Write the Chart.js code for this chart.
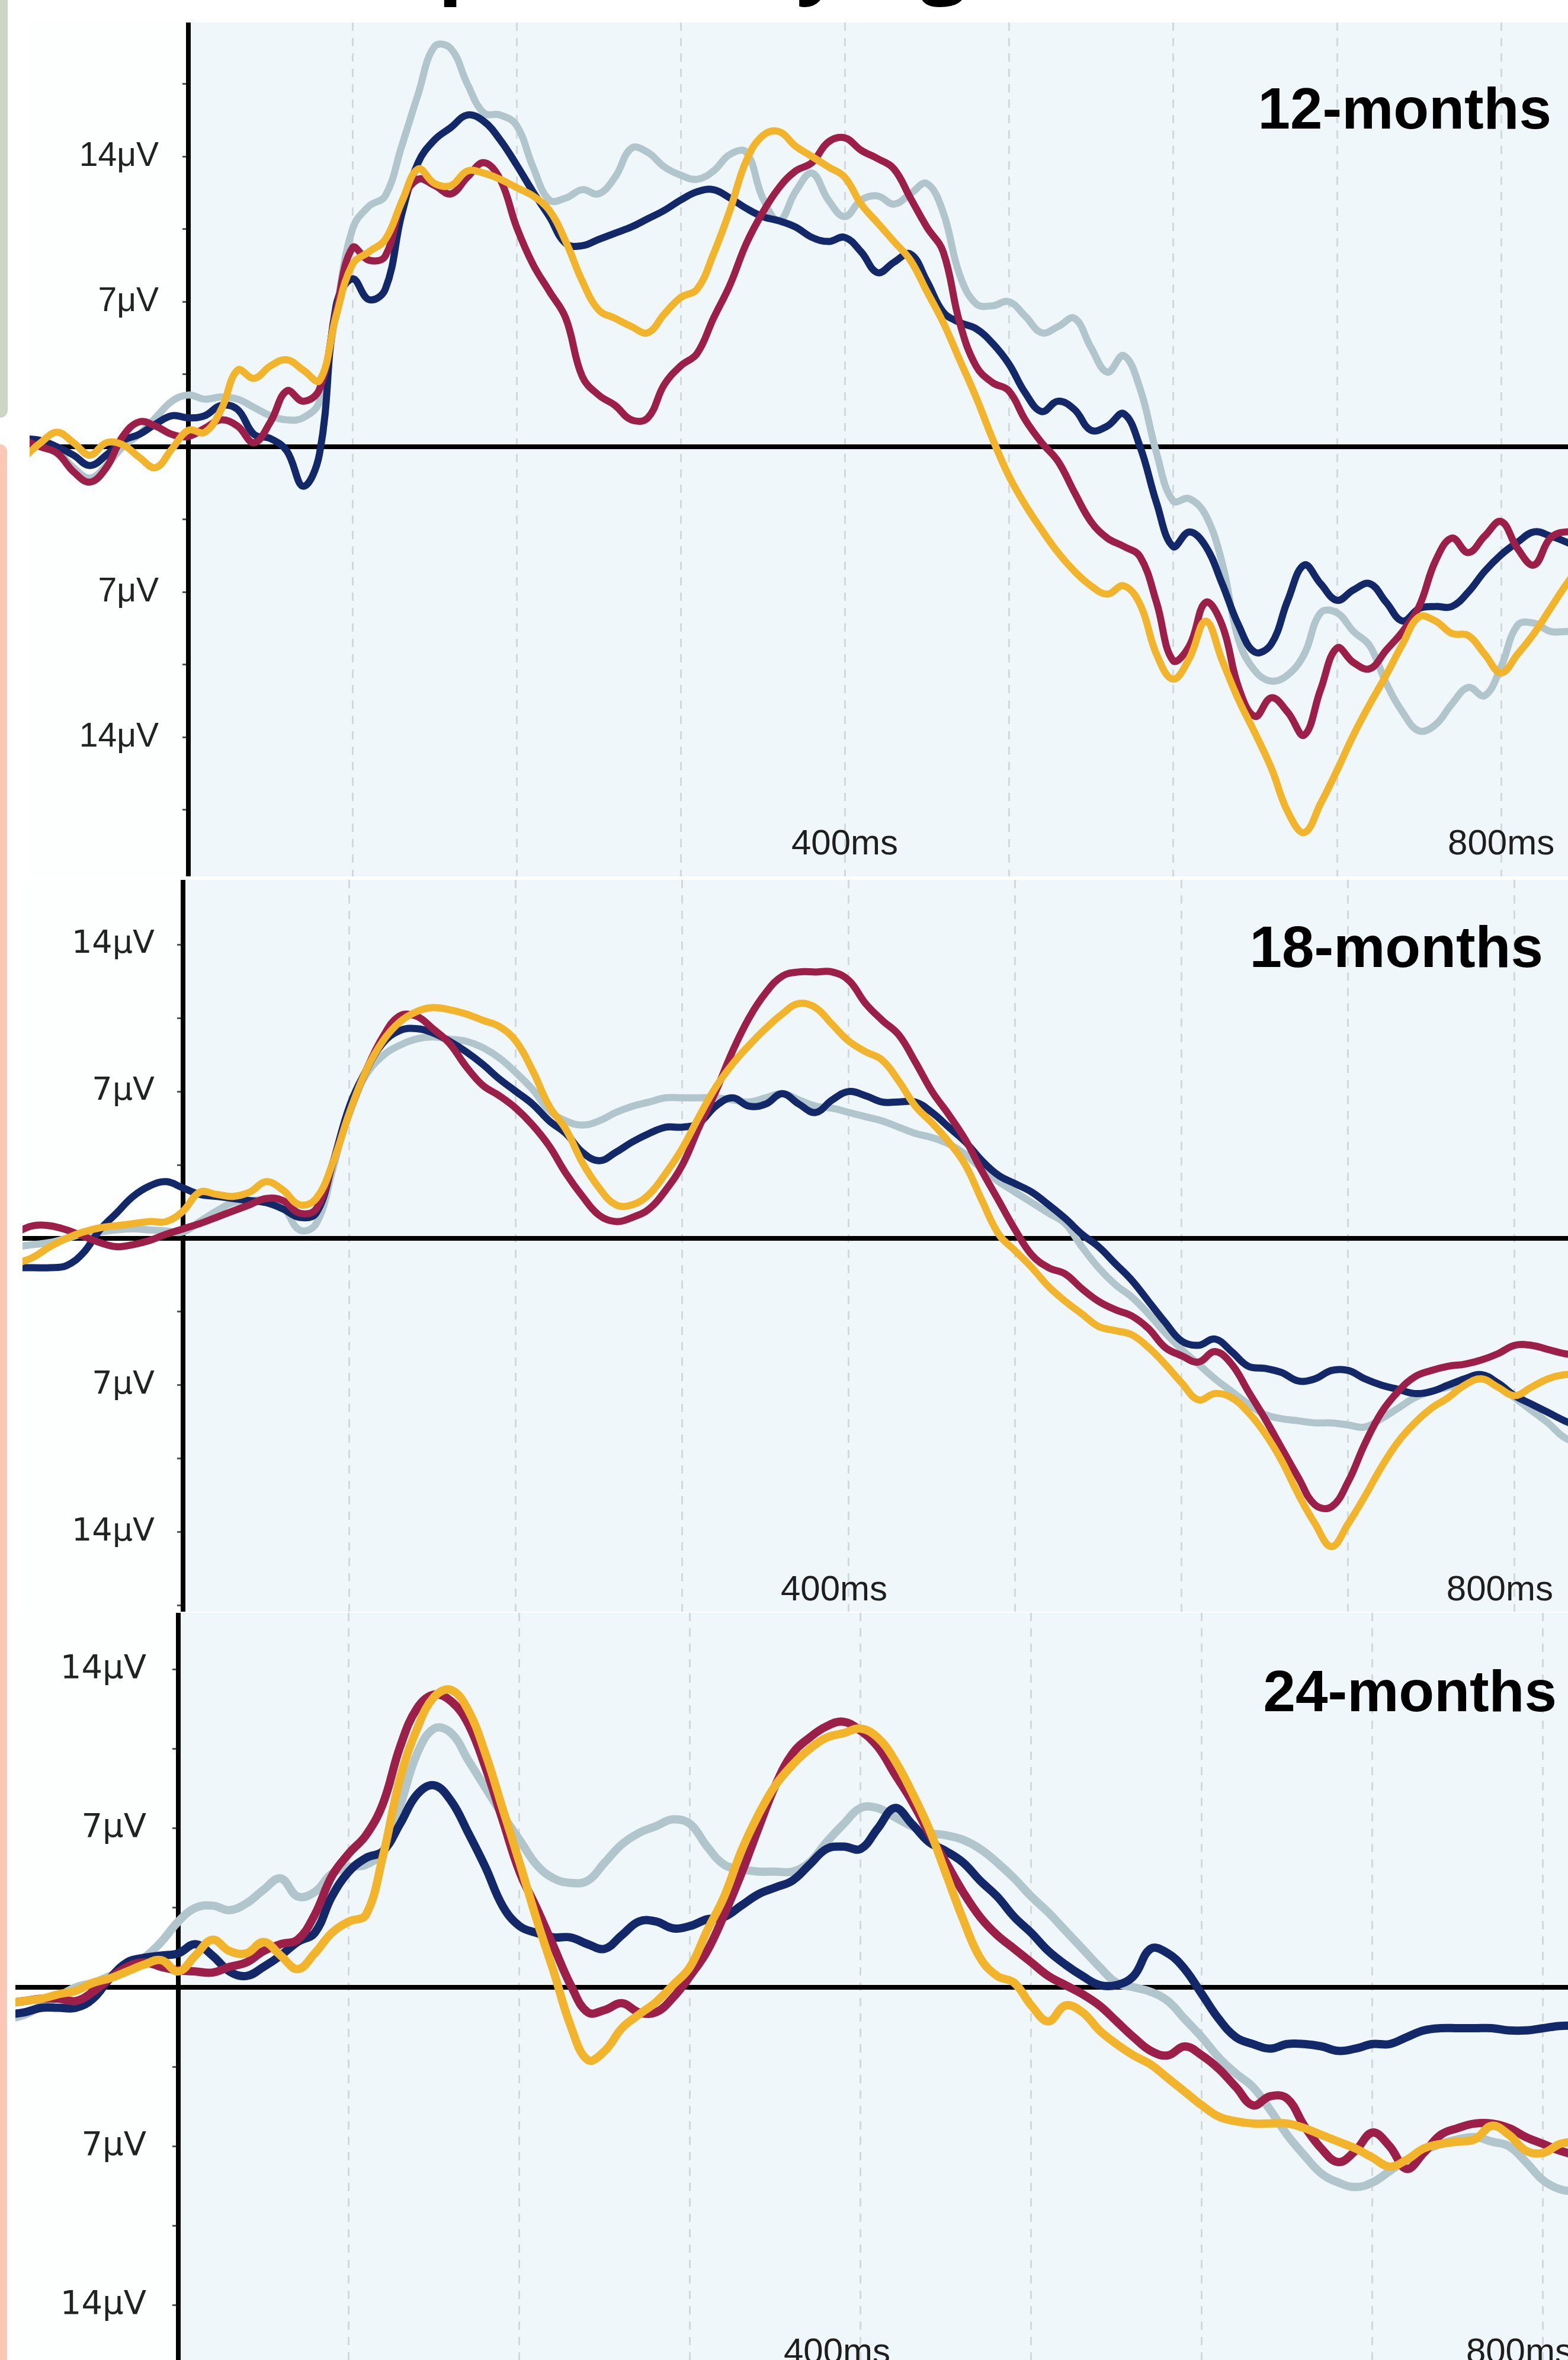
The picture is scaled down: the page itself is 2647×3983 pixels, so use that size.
<!DOCTYPE html>
<html>
<head>
<meta charset="utf-8">
<script src="https://cdn.jsdelivr.net/npm/chart.js@4.4.1/dist/chart.umd.min.js"></script>
<style>
  body { margin: 0; width: 2647px; height: 3983px; overflow: hidden; position: relative; background: #fff; }
  canvas { position: absolute; }
  .bar-green { position: absolute; left: 0; top: 0; width: 13px; height: 705px; background: #cdd6c5; border-bottom-right-radius: 14px; }
  .bar-salmon { position: absolute; left: 0; top: 750px; width: 12px; height: 3233px; background: #fcc7b4; border-top-right-radius: 14px; }
  .title { position: absolute; left: 207px; top: -144px; font: 700 138px/138px 'Open Sans', sans-serif; color: #000; white-space: nowrap; }
  .age { position: absolute; font: 700 98px/98px 'Liberation Sans', Arial, sans-serif; color: #000; white-space: nowrap; }
</style>
</head>
<body>
<div class="bar-green"></div>
<div class="bar-salmon"></div>
<div class="title">ERP Responses by Age</div>

<!-- the panels run a little past the right page edge, as in the cropped original -->
<canvas id="panel12" width="2637" height="1441" style="left:50px;top:38px"></canvas>
<canvas id="panel18" width="2649" height="1235" style="left:38px;top:1485px"></canvas>
<canvas id="panel24" width="2661" height="1261" style="left:26px;top:2722px"></canvas>

<div class="age" style="right:28px;top:134px">12-months</div>
<div class="age" style="right:42px;top:1549px">18-months</div>
<div class="age" style="right:19px;top:2805px">24-months</div>

<script>
// time after stimulus onset (ms)
const times = [
  -100, -90, -80, -70, -60, -50, -40, -30, -20, -10,
  0, 10, 20, 30, 40, 50, 60, 70, 80, 90,
  100, 110, 120, 130, 140, 150, 160, 170, 180, 190,
  200, 210, 220, 230, 240, 250, 260, 270, 280, 290,
  300, 310, 320, 330, 340, 350, 360, 370, 380, 390,
  400, 410, 420, 430, 440, 450, 460, 470, 480, 490,
  500, 510, 520, 530, 540, 550, 560, 570, 580, 590,
  600, 610, 620, 630, 640, 650, 660, 670, 680, 690,
  700, 710, 720, 730, 740, 750, 760, 770, 780, 790,
  800, 810, 820, 830, 840, 850
];

// 12 months (µV)
const navy12 = [
  0.4, 0.3, 0.0, -0.4, -0.9, -0.4, 0.3, 0.6, 1.1, 1.5,
  1.4, 1.5, 2.0, 1.8, 0.6, 0.4, -0.2, -1.9, -0.3, 6.8,
  8.1, 7.1, 7.6, 11.2, 13.7, 14.8, 15.4, 16.0, 15.7, 14.8,
  13.6, 12.3, 11.1, 9.8, 9.7, 10.0, 10.3, 10.6, 11.0, 11.4,
  11.9, 12.3, 12.4, 12.0, 11.5, 11.1, 10.9, 10.6, 10.1, 9.9,
  10.1, 9.4, 8.4, 8.9, 9.3, 8.0, 6.5, 6.0, 5.7, 5.0,
  4.0, 2.6, 1.7, 2.2, 1.8, 0.8, 1.0, 1.6, 0.0, -2.7,
  -4.8, -4.1, -4.8, -6.6, -8.6, -9.9, -9.5, -7.4, -5.7, -6.6,
  -7.4, -6.9, -6.6, -7.5, -8.4, -7.8, -7.7, -7.7, -7.0, -6.0,
  -5.2, -4.6, -4.1, -4.3, -4.6, -5.0
];
const grey12 = [
  0.3, 0.3, -0.2, -1.0, -1.5, -0.9, 0.0, 0.6, 1.4, 2.2,
  2.5, 2.3, 2.4, 2.3, 1.9, 1.5, 1.3, 1.4, 2.2, 6.5,
  10.5, 11.6, 12.1, 14.5, 17.0, 19.3, 19.2, 17.5, 16.1, 16.0,
  15.5, 13.5, 11.9, 12.0, 12.4, 12.2, 13.0, 14.4, 14.2, 13.5,
  13.1, 12.9, 13.3, 14.1, 14.2, 12.0, 10.9, 12.3, 13.2, 11.9,
  11.1, 11.9, 12.1, 11.7, 12.2, 12.7, 11.3, 8.3, 6.9, 6.8,
  7.0, 6.3, 5.5, 5.8, 6.2, 4.8, 3.6, 4.4, 2.8, -0.3,
  -2.6, -2.5, -3.3, -5.6, -9.3, -10.8, -11.3, -11.0, -10.0, -8.0,
  -8.0, -8.9, -9.6, -11.4, -12.8, -13.7, -13.4, -12.4, -11.6, -12.0,
  -10.6, -8.6, -8.5, -8.9, -8.9, -8.9
];
const maroon12 = [
  0.3, 0.0, -0.3, -1.2, -1.7, -1.0, 0.5, 1.2, 1.0, 0.6,
  0.5, 0.9, 1.3, 1.0, 0.2, 1.2, 2.7, 2.2, 2.8, 6.5,
  9.6, 9.0, 9.2, 11.8, 12.9, 12.6, 12.2, 13.0, 13.7, 12.9,
  10.6, 8.8, 7.5, 6.2, 3.4, 2.5, 2.0, 1.3, 1.4, 3.0,
  3.9, 4.5, 6.2, 7.8, 9.8, 11.3, 12.5, 13.3, 13.7, 14.7,
  14.9, 14.3, 13.9, 13.4, 12.0, 10.6, 9.4, 6.0, 3.9, 3.1,
  2.7, 1.3, 0.2, -0.7, -2.2, -3.6, -4.4, -4.8, -5.3, -7.5,
  -10.3, -9.6, -7.5, -8.6, -11.6, -13.0, -12.1, -12.8, -13.9, -11.7,
  -9.7, -10.4, -10.7, -9.8, -8.9, -7.7, -5.5, -4.4, -5.1, -4.3,
  -3.6, -4.9, -5.7, -4.4, -4.1, -4.3
];
const gold12 = [
  -0.5, 0.2, 0.7, 0.2, -0.4, 0.2, 0.1, -0.5, -1.0, -0.1,
  0.8, 0.7, 1.8, 3.7, 3.3, 3.9, 4.2, 3.7, 3.2, 6.3,
  8.8, 9.4, 10.0, 11.8, 13.4, 12.7, 12.6, 13.3, 13.2, 12.9,
  12.5, 12.1, 11.4, 9.9, 8.0, 6.6, 6.2, 5.8, 5.5, 6.4,
  7.2, 7.6, 9.3, 11.4, 13.8, 15.0, 15.2, 14.5, 14.0, 13.5,
  13.0, 11.7, 10.8, 9.9, 9.0, 7.5, 6.0, 4.2, 2.4, 0.4,
  -1.4, -2.8, -4.0, -5.1, -6.0, -6.7, -7.1, -6.7, -7.6, -10.0,
  -11.2, -10.2, -8.4, -10.3, -12.2, -13.8, -15.5, -17.6, -18.6, -17.2,
  -15.6, -13.9, -12.4, -11.0, -9.5, -8.2, -8.4, -9.0, -9.1, -10.0,
  -10.9, -10.0, -9.0, -7.8, -6.6, -5.6
];

// 18 months (µV)
const navy18 = [
  -1.4, -1.4, -1.4, -1.3, -0.7, 0.4, 1.2, 2.0, 2.5, 2.7,
  2.4, 2.1, 2.0, 1.9, 1.8, 1.7, 1.4, 1.0, 1.2, 3.6,
  6.3, 8.0, 9.3, 9.9, 10.0, 9.8, 9.4, 8.9, 8.3, 7.6,
  7.0, 6.4, 5.6, 5.0, 4.1, 3.7, 4.1, 4.6, 5.0, 5.3,
  5.3, 5.5, 6.3, 6.7, 6.3, 6.4, 6.9, 6.4, 6.0, 6.6,
  7.0, 6.8, 6.5, 6.5, 6.5, 6.0, 5.3, 4.6, 3.7, 3.0,
  2.6, 2.2, 1.6, 0.95, 0.2, -0.4, -1.2, -2.0, -3.0, -4.0,
  -4.9, -5.1, -4.8, -5.4, -6.1, -6.2, -6.4, -6.8, -6.7, -6.3,
  -6.3, -6.7, -7.0, -7.2, -7.4, -7.3, -7.0, -6.7, -6.5, -6.9,
  -7.5, -7.9, -8.3, -8.7, -9.0, -9.2
];
const grey18 = [
  -0.4, -0.3, -0.2, 0.0, 0.2, 0.3, 0.4, 0.45, 0.4, 0.35,
  0.3, 0.8, 1.3, 1.7, 1.8, 1.8, 1.5, 0.4, 0.7, 3.3,
  6.2, 7.8, 8.7, 9.2, 9.5, 9.6, 9.5, 9.4, 9.1, 8.6,
  7.9, 7.1, 6.1, 5.6, 5.4, 5.6, 6.0, 6.3, 6.5, 6.7,
  6.7, 6.7, 6.7, 6.6, 6.5, 6.7, 6.9, 6.6, 6.3, 6.2,
  6.0, 5.8, 5.6, 5.3, 5.0, 4.8, 4.5, 4.0, 3.3, 2.7,
  2.2, 1.7, 1.2, 0.7, -0.4, -1.4, -2.2, -2.8, -3.6, -4.5,
  -5.3, -6.0, -6.7, -7.3, -7.9, -8.4, -8.6, -8.7, -8.8, -8.8,
  -8.9, -9.0, -8.6, -8.1, -7.6, -7.3, -7.1, -6.9, -6.7, -7.0,
  -7.6, -8.2, -8.8, -9.5, -9.8, -10.0
];
const maroon18 = [
  0.3, 0.6, 0.6, 0.4, 0.1, -0.2, -0.4, -0.3, -0.1, 0.2,
  0.45, 0.7, 1.0, 1.3, 1.6, 1.9, 1.8, 1.2, 1.4, 3.6,
  6.0, 8.0, 9.6, 10.6, 10.6, 10.0, 9.3, 8.2, 7.3, 6.8,
  6.2, 5.4, 4.4, 3.1, 2.0, 1.1, 0.8, 1.0, 1.4, 2.3,
  3.5, 5.3, 7.0, 8.9, 10.5, 11.7, 12.5, 12.7, 12.7, 12.7,
  12.3, 11.2, 10.4, 9.7, 8.4, 7.0, 5.9, 4.7, 3.2, 1.8,
  0.4, -0.8, -1.4, -1.7, -2.4, -3.0, -3.4, -3.7, -4.3, -5.2,
  -5.6, -5.9, -5.4, -6.0, -7.3, -8.6, -10.0, -11.4, -12.7, -12.8,
  -11.6, -9.8, -8.3, -7.3, -6.6, -6.3, -6.1, -6.0, -5.8, -5.5,
  -5.1, -5.1, -5.3, -5.5, -5.6, -5.6
];
const gold18 = [
  -1.2, -0.9, -0.4, 0.0, 0.3, 0.5, 0.6, 0.7, 0.8, 0.8,
  1.3, 2.2, 2.1, 2.0, 2.2, 2.7, 2.3, 1.6, 1.9, 3.6,
  6.0, 8.0, 9.4, 10.3, 10.8, 11.0, 10.9, 10.7, 10.4, 10.1,
  9.4, 8.0, 6.3, 5.2, 3.6, 2.4, 1.6, 1.6, 2.1, 3.1,
  4.3, 5.8, 7.2, 8.3, 9.2, 10.0, 10.7, 11.2, 11.0, 10.2,
  9.4, 8.9, 8.5, 7.5, 6.3, 5.5, 4.6, 3.5, 1.8, 0.2,
  -0.6, -1.4, -2.3, -3.0, -3.6, -4.2, -4.4, -4.6, -5.2, -6.0,
  -6.9, -7.7, -7.4, -7.6, -8.3, -9.3, -10.6, -12.2, -13.6, -14.7,
  -13.6, -12.3, -10.9, -9.7, -8.8, -8.1, -7.6, -7.0, -6.7, -7.1,
  -7.5, -7.1, -6.7, -6.5, -6.5, -6.5
];

// 24 months (µV)
const navy24 = [
  -1.2, -1.1, -0.9, -0.9, -0.9, -0.5, 0.4, 1.1, 1.3, 1.4,
  1.5, 1.9, 1.4, 0.7, 0.5, 0.9, 1.4, 2.0, 2.4, 4.0,
  5.1, 5.7, 6.0, 7.2, 8.5, 8.9, 8.2, 6.8, 5.3, 3.6,
  2.7, 2.4, 2.2, 2.2, 1.9, 1.7, 2.3, 2.9, 2.9, 2.6,
  2.7, 3.0, 3.1, 3.6, 4.1, 4.4, 4.7, 5.4, 6.1, 6.2,
  6.1, 7.0, 7.9, 7.2, 6.4, 6.0, 5.5, 4.7, 4.0, 3.1,
  2.4, 1.6, 1.0, 0.5, 0.1, 0.1, 0.5, 1.7, 1.5, 0.8,
  -0.3, -1.4, -2.2, -2.5, -2.7, -2.5, -2.5, -2.6, -2.8, -2.7,
  -2.5, -2.5, -2.2, -1.9, -1.8, -1.8, -1.8, -1.8, -1.9, -1.9,
  -1.8, -1.7, -1.7, -1.7, -1.7, -1.7
];
const grey24 = [
  -1.4, -1.2, -0.8, -0.4, 0.0, 0.2, 0.5, 0.85, 1.3, 2.0,
  2.9, 3.5, 3.6, 3.4, 3.7, 4.3, 4.8, 4.0, 4.2, 5.0,
  5.3, 5.4, 6.0, 8.0, 10.3, 11.4, 11.2, 10.0, 8.8, 7.6,
  6.5, 5.4, 4.8, 4.6, 4.7, 5.5, 6.3, 6.8, 7.1, 7.4,
  7.2, 6.2, 5.4, 5.2, 5.1, 5.1, 5.1, 5.5, 6.4, 7.2,
  7.9, 7.9, 7.5, 7.1, 6.8, 6.7, 6.5, 6.1, 5.5, 4.8,
  4.0, 3.3, 2.5, 1.7, 0.9, 0.2, 0.0, -0.2, -0.6, -1.4,
  -2.2, -3.1, -3.8, -4.4, -5.4, -6.5, -7.4, -8.2, -8.6, -8.8,
  -8.6, -8.1, -7.6, -7.2, -6.9, -6.7, -6.6, -6.8, -7.0, -7.7,
  -8.5, -8.9, -9.0, -9.0, -9.0, -9.0
];
const maroon24 = [
  -0.7, -0.6, -0.5, -0.5, -0.6, -0.2, 0.4, 0.9, 1.1, 0.9,
  0.75, 0.7, 0.65, 0.9, 1.1, 1.6, 1.9, 2.1, 3.2, 4.9,
  5.9, 6.7, 8.1, 10.6, 12.3, 12.9, 12.6, 11.6, 9.7, 7.4,
  5.1, 3.5, 1.8, 0.1, -1.1, -1.0, -0.7, -1.1, -1.1, -0.45,
  0.5, 1.6, 3.2, 5.0, 7.0, 8.9, 10.3, 11.0, 11.5, 11.7,
  11.3, 10.6, 9.4, 8.2, 6.8, 5.5, 4.2, 3.1, 2.3, 1.7,
  1.1, 0.5, 0.1, -0.3, -0.8, -1.5, -2.2, -2.8, -3.0, -2.6,
  -3.0, -3.6, -4.4, -5.2, -4.8, -4.9, -6.1, -7.1, -7.7, -7.2,
  -6.4, -7.0, -8.0, -7.3, -6.5, -6.2, -6.0, -6.0, -6.2, -6.6,
  -6.9, -7.2, -7.4, -7.5, -7.5, -7.5
];
const gold24 = [
  -0.7, -0.6, -0.5, -0.3, -0.15, 0.2, 0.4, 0.7, 1.0, 1.2,
  0.7, 1.4, 2.1, 1.6, 1.5, 2.0, 1.4, 0.8, 1.5, 2.4,
  2.9, 3.2, 5.8, 9.2, 11.4, 12.8, 13.1, 12.2, 10.3, 7.9,
  5.5, 3.0, 0.7, -1.7, -3.2, -2.8, -1.8, -1.2, -0.65, 0.1,
  0.9, 2.5, 4.0, 6.0, 7.6, 8.9, 9.8, 10.5, 11.0, 11.2,
  11.4, 11.0, 10.0, 8.6, 7.0, 5.0, 3.0, 1.3, 0.5, 0.2,
  -0.8, -1.5, -0.8, -1.1, -1.9, -2.5, -3.0, -3.4, -4.0, -4.6,
  -5.2, -5.7, -5.9, -6.0, -6.0, -6.0, -6.2, -6.5, -6.8, -7.1,
  -7.5, -7.9, -7.6, -7.1, -6.9, -6.8, -6.7, -6.1, -6.5, -7.2,
  -7.3, -6.9, -6.8, -6.8, -6.8, -6.8
];

const xTicks = [0, 100, 200, 300, 400, 500, 600, 700, 800];
const xLabels = [400, 800];
const yTicks = [-17.5, -14, -10.5, -7, -3.5, 0, 3.5, 7, 10.5, 14, 17.5];
const yLabels = [7, 14];

const colors = { gold: '#f1b42a', maroon: '#9c1f49', navy: '#122869', grey: '#b1c5cc' };

// light blue plot area, white label strip, and the black zero line across the whole panel
const panelBackground = {
  id: 'panelBackground',
  beforeDraw(chart) {
    const { ctx, chartArea: a } = chart;
    ctx.save();
    ctx.fillStyle = '#fdfefe';
    ctx.fillRect(0, 0, chart.width, chart.height);
    ctx.fillStyle = '#eff7fa';
    ctx.fillRect(a.left, 0, chart.width - a.left, chart.height);
    ctx.restore();
  },
  beforeDatasetsDraw(chart) {
    const { ctx } = chart;
    const y = chart.scales.y.getPixelForValue(0);
    ctx.save();
    ctx.strokeStyle = '#000';
    ctx.lineWidth = 8;
    ctx.beginPath();
    ctx.moveTo(0, y);
    ctx.lineTo(chart.width, y);
    ctx.stroke();
    ctx.restore();
  }
};

function drawPanel(canvasId, panel, series) {
  return new Chart(document.getElementById(canvasId), {
    type: 'line',
    data: {
      labels: times,
      datasets: series.map(s => ({
        data: s.values,
        borderColor: s.color,
        borderWidth: panel.lineWidth,
        borderCapStyle: 'round',
        borderJoinStyle: 'round',
        pointRadius: 0,
        tension: 0.4,
        fill: false,
        clip: false
      }))
    },
    options: {
      responsive: false,
      animation: false,
      events: [],
      layout: { padding: 0, autoPadding: false },
      plugins: { legend: { display: false }, tooltip: { enabled: false } },
      scales: {
        x: {
          type: 'linear',
          position: 'bottom',
          afterBuildTicks: scale => {
            scale.min = 0;
            scale.max = panel.xMax;
            scale.ticks = xTicks.map(v => ({ value: v }));
          },
          afterFit: scale => {
            scale.height = 0;
            scale.paddingLeft = 0;
            scale.paddingRight = 0;
          },
          grid: {
            color: ctx => (ctx.tick && ctx.tick.value === 0) ? 'rgba(0,0,0,0)' : '#d3d8db',
            lineWidth: 3,
            drawTicks: false
          },
          border: { display: false, dash: [14, 12] },
          ticks: {
            // labels sit inside the plot, just above its bottom edge
            mirror: true,
            padding: -60,
            labelOffset: panel.xLabelShift,
            maxRotation: 0,
            autoSkip: false,
            color: '#1e1e1e',
            font: { family: 'Liberation Sans', size: 60, lineHeight: panel.xLabelLine },
            callback: v => xLabels.includes(v) ? v + 'ms' : ''
          }
        },
        y: {
          type: 'linear',
          position: 'left',
          min: panel.yMin,
          max: panel.yMax,
          afterBuildTicks: scale => {
            scale.ticks = yTicks.filter(v => v > panel.yMin && v < panel.yMax).map(v => ({ value: v }));
          },
          afterFit: scale => {
            scale.width = panel.axisWidth;
            scale.paddingTop = 0;
            scale.paddingBottom = 0;
          },
          grid: { drawOnChartArea: false, tickLength: 10, tickWidth: 3, tickColor: '#555' },
          border: { color: '#000', width: 8 },
          ticks: {
            padding: panel.yLabelPad,
            autoSkip: false,
            color: '#222',
            font: { family: panel.yFont, size: panel.yFontSize },
            callback: v => yLabels.includes(Math.abs(v)) ? Math.abs(v) + 'μV' : ''
          }
        }
      }
    },
    plugins: [panelBackground]
  });
}

function seriesFor(gold, maroon, navy, grey) {
  // first in the list is drawn on top
  return [
    { values: gold, color: colors.gold },
    { values: maroon, color: colors.maroon },
    { values: navy, color: colors.navy },
    { values: grey, color: colors.grey }
  ];
}

// xMax = (canvas width - axis width) / px per ms
drawPanel('panel12', {
  axisWidth: 268, xMax: 855.2, yMin: -20.71, yMax: 20.46, lineWidth: 12,
  xLabelLine: 3.77, xLabelShift: 0, yLabelPad: 40, yFont: 'Liberation Sans', yFontSize: 57
}, seriesFor(gold12, maroon12, navy12, grey12));

drawPanel('panel18', {
  axisWidth: 271, xMax: 846.3, yMin: -17.80, yMax: 17.09, lineWidth: 12,
  xLabelLine: 3.2, xLabelShift: -25, yLabelPad: 38, yFont: 'DejaVu Sans', yFontSize: 54
}, seriesFor(gold18, maroon18, navy18, grey18));

drawPanel('panel24', {
  axisWidth: 275, xMax: 828.5, yMin: -16.42, yMax: 16.50, lineWidth: 14,
  xLabelLine: 2.4, xLabelShift: -40, yLabelPad: 44, yFont: 'DejaVu Sans', yFontSize: 56
}, seriesFor(gold24, maroon24, navy24, grey24));
</script>
</body>
</html>
